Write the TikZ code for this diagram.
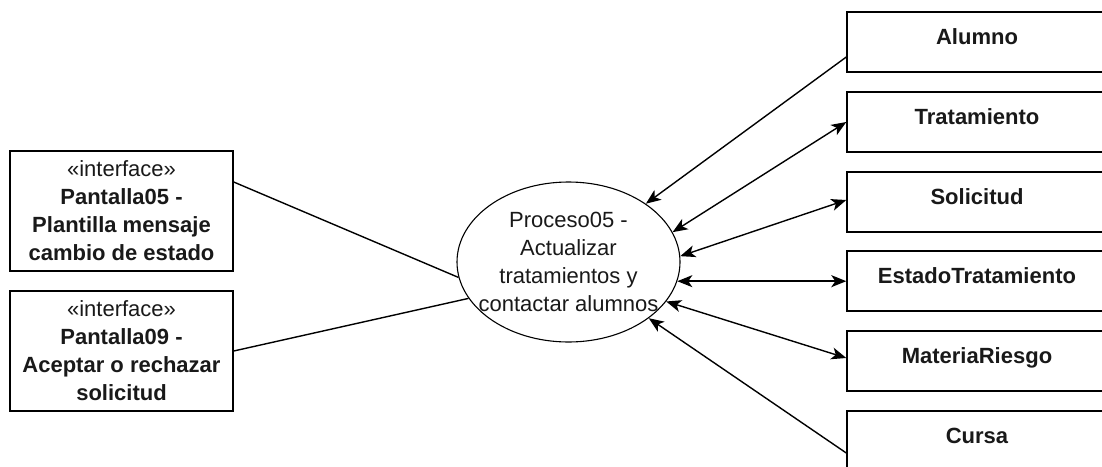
\documentclass[tikz,border=0pt]{standalone}
\usepackage{fontspec}
\setmainfont{Liberation Sans}
\usetikzlibrary{shapes.geometric,arrows.meta}
\begin{document}
\begin{tikzpicture}[x=1pt,y=-1pt,
  every node/.style={font=\fontsize{22}{28}\selectfont, text=black!90},
  iface/.style={draw, line width=1.4pt, minimum width=223pt, minimum height=120pt,
    align=center, inner sep=0pt},
  entity/.style={draw, line width=1.4pt, minimum width=260pt, minimum height=60pt,
    inner xsep=0pt, inner ysep=6pt, text height=26pt, text depth=22pt,
    font=\fontsize{22}{28}\selectfont\bfseries},
  process/.style={draw, ellipse, line width=1.1pt, minimum width=223pt,
    minimum height=160pt, inner xsep=-30pt, inner ysep=0pt, align=center},
  link/.style={line width=1.4pt},
  oneway/.style={-{Stealth[length=15pt,width=12pt,inset=4pt]}},
  twoway/.style={{Stealth[length=15pt,width=12pt,inset=4pt]}-{Stealth[length=15pt,width=12pt,inset=4pt]}}
]
\useasboundingbox (0,0) rectangle (1102,466);
\clip (0,0) rectangle (1102,466);

% interface screens
\node[iface] (p05) at (121.5,211)
  {«interface»\\\textbf{Pantalla05 -}\\\textbf{Plantilla mensaje}\\\textbf{cambio de estado}};
\node[iface] (p09) at (121.5,351)
  {«interface»\\\textbf{Pantalla09 -}\\\textbf{Aceptar o rechazar}\\\textbf{solicitud}};

% process
\node[process] (proc) at (568.5,262)
  {Proceso05 -\\Actualizar\\tratamientos y\\contactar alumnos};

% entities
\node[entity] (alumno)  at (977,42)  {Alumno};
\node[entity] (trat)    at (977,122) {Tratamiento};
\node[entity] (sol)     at (977,202) {Solicitud};
\node[entity] (estado)  at (977,281) {EstadoTratamiento};
\node[entity] (materia) at (977,361) {MateriaRiesgo};
\node[entity] (cursa)   at (977,441) {Cursa};

% connectors
\draw[link] ([yshift=29pt]p05.east) -- (proc.188);
\draw[link] (p09.east) -- (proc.200);

\draw[link, oneway] ([yshift=-15pt]alumno.west) -- (proc.37);
\draw[link, twoway] (proc.16) -- (trat.west);
\draw[link, twoway] (proc.3) -- ([yshift=2pt]sol.west);
\draw[link, twoway] (proc.-10) -- (proc.-10 -| estado.west);
\draw[link, twoway] (proc.-22) -- ([yshift=3pt]materia.west);
\draw[link, oneway] ([yshift=-12pt]cursa.west) -- (proc.-35);
\end{tikzpicture}
\end{document}
